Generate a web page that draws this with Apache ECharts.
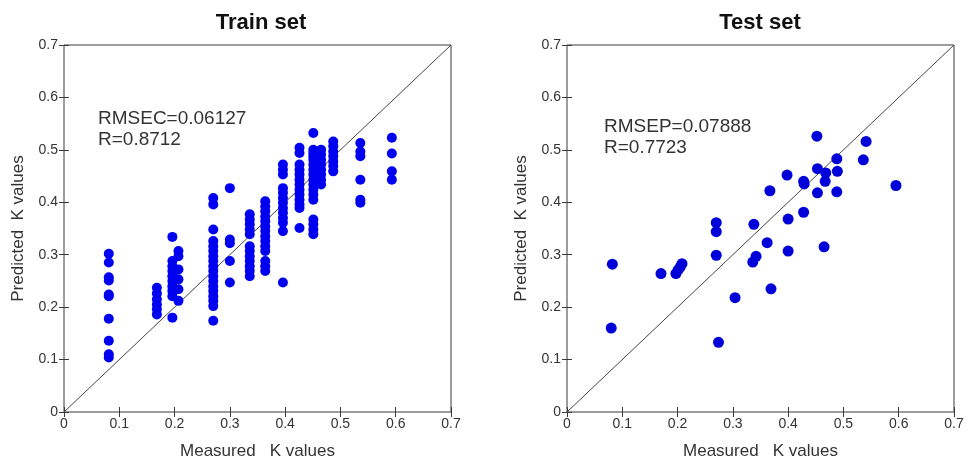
<!DOCTYPE html>
<html>
<head>
<meta charset="utf-8">
<script src="https://cdn.jsdelivr.net/npm/echarts@6/dist/echarts.min.js"></script>
<style>html,body{margin:0;padding:0;background:#fff}#c{width:967px;height:465px}</style>
</head>
<body>
<div id="c"></div>
<script>
// ---- data ----
var axisTicks = [0, 0.1, 0.2, 0.3, 0.4, 0.5, 0.6, 0.7];
var diagonal = [0, 0.7];

// Train set: measured K levels (columns) and predicted values in each column
var trainMeasured = [0.081, 0.168, 0.196, 0.207, 0.270, 0.300, 0.336, 0.364, 0.396, 0.426, 0.451, 0.465, 0.487, 0.536, 0.593];
var trainPredicted = [
  [0.302, 0.285, 0.257, 0.251, 0.224, 0.221, 0.178, 0.136, 0.110, 0.104],
  [0.237, 0.226, 0.215, 0.205, 0.196, 0.186],
  [0.334, 0.288, 0.278, 0.269, 0.259, 0.250, 0.240, 0.231, 0.221, 0.180],
  [0.307, 0.297, 0.272, 0.253, 0.234, 0.212],
  [0.408, 0.396, 0.348, 0.326, 0.316, 0.307, 0.297, 0.288, 0.278, 0.269, 0.259, 0.250, 0.240, 0.231, 0.221, 0.212, 0.202, 0.174],
  [0.427, 0.329, 0.322, 0.288, 0.247],
  [0.377, 0.367, 0.358, 0.348, 0.339, 0.316, 0.307, 0.297, 0.288, 0.278, 0.269, 0.259],
  [0.402, 0.392, 0.383, 0.373, 0.364, 0.354, 0.345, 0.335, 0.326, 0.316, 0.307, 0.288, 0.278, 0.269],
  [0.472, 0.462, 0.453, 0.427, 0.418, 0.408, 0.399, 0.389, 0.380, 0.370, 0.361, 0.345, 0.247],
  [0.504, 0.494, 0.472, 0.462, 0.453, 0.443, 0.434, 0.424, 0.415, 0.405, 0.396, 0.389, 0.351],
  [0.532, 0.500, 0.494, 0.488, 0.481, 0.472, 0.462, 0.453, 0.443, 0.434, 0.424, 0.415, 0.405, 0.367, 0.358, 0.348, 0.339],
  [0.500, 0.491, 0.481, 0.472, 0.462, 0.453, 0.443, 0.434],
  [0.516, 0.507, 0.497, 0.488, 0.478, 0.469, 0.459],
  [0.513, 0.497, 0.488, 0.443, 0.405, 0.399],
  [0.523, 0.493, 0.459, 0.443]
];

// Test set
var testMeasured = [0.082, 0.080, 0.170, 0.197, 0.201, 0.205, 0.208, 0.270, 0.270, 0.270, 0.274, 0.304, 0.338, 0.336, 0.342, 0.362, 0.367, 0.369, 0.398, 0.400, 0.400, 0.428, 0.429, 0.428, 0.452, 0.453, 0.453, 0.468, 0.467, 0.465, 0.488, 0.489, 0.488, 0.536, 0.541, 0.595];
var testPredicted = [0.282, 0.160, 0.264, 0.264, 0.271, 0.277, 0.283, 0.361, 0.344, 0.299, 0.133, 0.218, 0.358, 0.286, 0.297, 0.323, 0.422, 0.235, 0.452, 0.368, 0.307, 0.440, 0.435, 0.381, 0.526, 0.464, 0.418, 0.456, 0.440, 0.315, 0.483, 0.459, 0.420, 0.481, 0.516, 0.432];

var trainText = ['RMSEC=0.06127', 'R=0.8712'];
var testText = ['RMSEP=0.07888', 'R=0.7723'];
var titles = ['Train set', 'Test set'];
var xName = 'Measured   K values';
var yName = 'Predicted  K values';

// ---- build ----
var trainPts = [];
trainMeasured.forEach(function (x, i) {
  trainPredicted[i].forEach(function (y) { trainPts.push([x, y]); });
});
var testPts = testMeasured.map(function (x, i) { return [x, testPredicted[i]]; });
var diagPts = [[diagonal[0], diagonal[0]], [diagonal[1], diagonal[1]]];

var FONT = 'Liberation Sans, Arial, sans-serif';
var TXT = '#333';
var FRAME = '#3a3a3a';
var BLUE = '#0000f0';

function fmt(v) { return v === 0 ? '0' : String(+v.toFixed(1)); }

function mkX(gi, pos, showLabel) {
  return {
    type: 'value', gridIndex: gi, position: pos, min: axisTicks[0], max: axisTicks[axisTicks.length - 1], interval: 0.1,
    axisLine: { show: false },
    axisTick: { show: true, inside: true, length: 5, lineStyle: { color: FRAME, width: 1 } },
    axisLabel: { show: showLabel, color: TXT, fontFamily: FONT, fontSize: 14, margin: 5, formatter: fmt },
    splitLine: { show: false },
    name: showLabel ? xName : '', nameLocation: 'middle', nameGap: 31,
    nameTextStyle: { color: TXT, fontFamily: FONT, fontSize: 17 }
  };
}
function mkY(gi, pos, showLabel) {
  return {
    type: 'value', gridIndex: gi, position: pos, min: axisTicks[0], max: axisTicks[axisTicks.length - 1], interval: 0.1,
    axisLine: { show: false },
    axisTick: { show: true, inside: true, length: 5, lineStyle: { color: FRAME, width: 1 } },
    axisLabel: { show: showLabel, color: TXT, fontFamily: FONT, fontSize: 14, margin: 6, formatter: fmt },
    splitLine: { show: false },
    name: showLabel ? yName : '', nameLocation: 'middle', nameGap: 37, nameRotate: 90,
    nameTextStyle: { color: TXT, fontFamily: FONT, fontSize: 17 }
  };
}

var grids = [
  { left: 64, top: 45, width: 387, height: 368 },
  { left: 567, top: 45, width: 387, height: 368 }
];

var option = {
  backgroundColor: '#fff',
  animation: false,
  grid: grids.map(function (g) { return Object.assign({ show: true, borderColor: FRAME, borderWidth: 1, backgroundColor: '#fff', containLabel: false }, g); }),
  xAxis: [mkX(0, 'bottom', true), mkX(0, 'top', false), mkX(1, 'bottom', true), mkX(1, 'top', false)],
  yAxis: [mkY(0, 'left', true), mkY(0, 'right', false), mkY(1, 'left', true), mkY(1, 'right', false)],
  series: [
    { type: 'line', xAxisIndex: 0, yAxisIndex: 0, data: diagPts, symbol: 'none', lineStyle: { color: '#444', width: 1 }, silent: true, z: 1 },
    { type: 'scatter', xAxisIndex: 0, yAxisIndex: 0, data: trainPts, symbol: 'circle', symbolSize: 10, itemStyle: { color: BLUE, opacity: 1 }, z: 2 },
    { type: 'line', xAxisIndex: 2, yAxisIndex: 2, data: diagPts, symbol: 'none', lineStyle: { color: '#444', width: 1 }, silent: true, z: 1 },
    { type: 'scatter', xAxisIndex: 2, yAxisIndex: 2, data: testPts, symbol: 'circle', symbolSize: 11, itemStyle: { color: '#0000d8', opacity: 1 }, z: 2 }
  ],
  graphic: [
    { type: 'text', x: 261, y: 23, style: { text: titles[0], fill: '#111', font: 'bold 22px ' + FONT, textAlign: 'center', textVerticalAlign: 'middle' } },
    { type: 'text', x: 760, y: 23, style: { text: titles[1], fill: '#111', font: 'bold 22px ' + FONT, textAlign: 'center', textVerticalAlign: 'middle' } },
    { type: 'text', x: 98, y: 108, style: { text: trainText.join('\n'), fill: TXT, font: '19px ' + FONT, lineHeight: 21, textAlign: 'left', textVerticalAlign: 'top' } },
    { type: 'text', x: 604, y: 116, style: { text: testText.join('\n'), fill: TXT, font: '19px ' + FONT, lineHeight: 21, textAlign: 'left', textVerticalAlign: 'top' } }
  ]
};

var chart = echarts.init(document.getElementById('c'), null, { renderer: 'canvas' });
chart.setOption(option);
</script>
</body>
</html>
